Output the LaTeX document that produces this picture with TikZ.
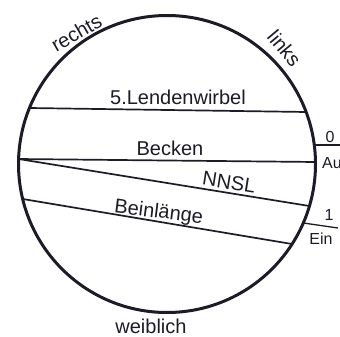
\documentclass[tikz,border=0pt]{standalone}
\usepackage{fontspec}
\setmainfont{Liberation Sans}
\definecolor{ink}{HTML}{1C1C28}
\begin{document}
\begin{tikzpicture}[x=1pt,y=-1pt,
  ring/.style={draw=ink,line width=3pt},
  rule/.style={draw=ink,line width=1.7pt},
  lbl/.style={text=ink,inner sep=0pt,anchor=base,font=\fontsize{20}{20}\selectfont},
  sml/.style={text=ink,inner sep=0pt,anchor=base,font=\fontsize{16}{16}\selectfont}]
\useasboundingbox (0,0) rectangle (340,337);
\fill[white] (0,0) rectangle (340,337);
\node[circle,ring,minimum size=297pt,inner sep=0pt] (c) at (167,164) {};
% line end points on the circle
\coordinate (l1) at (29.5,108);  \coordinate (r1) at (306,112);
\coordinate (l2) at (18.6,159);  \coordinate (r2) at (315.5,162);
\coordinate (r3) at (309.4,206);
\coordinate (l4) at (22.7,199);  \coordinate (r4) at (292,244);
\coordinate (a0) at (314.3,145); \coordinate (b0) at (340,145);
\coordinate (a1) at (303.3,223); \coordinate (b1) at (338,228);
\draw[rule] (l1) -- (r1);
\draw[rule] (l2) -- (r2);
\draw[rule] (l2) -- (r3);
\draw[rule] (l4) -- (r4);
\draw[rule,line width=1.3pt] (a0) -- (b0);
\draw[rule,line width=1.3pt] (a1) -- (b1);
% labels
\node[lbl] (t1) at (178,104) {5.Lendenwirbel};
\node[lbl] (t2) at (170,155) {Becken};
\node[lbl,rotate=-9] (t3) at (228,189) {NNSL};
\node[lbl,rotate=-7] (t4) at (158,218) {Beinlänge};
\node[lbl,rotate=30] (t5) at (80,39) {rechts};
\node[lbl,rotate=-50] (t6) at (279,53) {links};
\node[lbl] (t7) at (151,333) {weiblich};
\node[sml] (t8) at (330,142) {0};
\node[sml,anchor=base west] (t9) at (322,168) {Au};
\node[sml] (t10) at (329,220) {1};
\node[sml] (t11) at (321,244) {Ein};
\end{tikzpicture}
\end{document}
